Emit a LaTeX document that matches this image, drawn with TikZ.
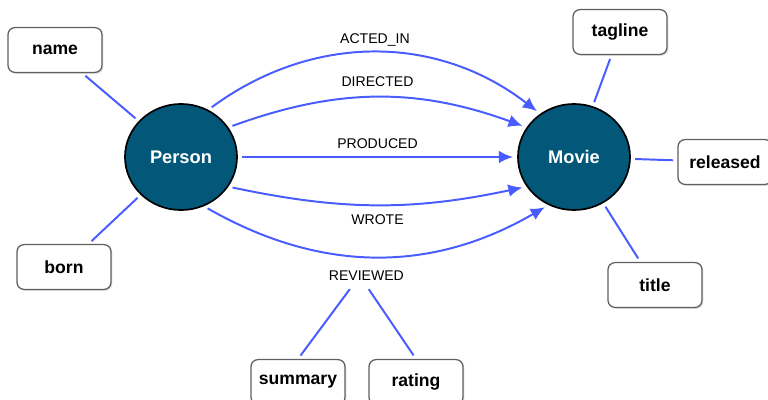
\documentclass[tikz,border=0pt]{standalone}
\usepackage{fontspec}
\setmainfont{Liberation Sans}
\usetikzlibrary{arrows.meta,shapes.geometric,shadows}

\definecolor{entitycol}{RGB}{3,88,122}
\definecolor{relcol}{RGB}{72,92,255}
\definecolor{boxline}{RGB}{95,95,95}

\begin{document}
\begin{tikzpicture}[x=0.025cm,y=-0.025cm,
	entity/.style={ellipse,draw=black,line width=1.2pt,fill=entitycol,text=white,
		font=\fontsize{13}{15}\selectfont\bfseries,minimum width=2.8cm,minimum height=2.65cm},
	prop/.style={draw=boxline,line width=0.9pt,rounded corners=5pt,fill=white,
		font=\fontsize{12.5}{15}\selectfont\bfseries,minimum width=2.35cm,minimum height=1.12cm,
		drop shadow={shadow xshift=1pt,shadow yshift=-1pt,opacity=0.25}},
	link/.style={draw=relcol,line width=1.4pt,shorten <=3pt,shorten >=3pt},
	rel/.style={link,-{Latex[length=10pt,width=9pt]}},
	lbl/.style={font=\fontsize{10}{12}\selectfont,text=black}]
	\clip (0,0) rectangle (768,400);
	\node[entity] (person) at (181,157) {Person};
	\node[entity] (movie) at (574,157) {Movie};
	\node[prop] (name) at (55,50) {name};
	\node[prop] (born) at (64,267) {born};
	\node[prop] (tagline) at (620,32) {tagline};
	\node[prop] (released) at (725,162) {released};
	\node[prop] (title) at (655,285) {title};
	\node[prop] (summary) at (298,382) {summary};
	\node[prop] (rating) at (416,382) {rating};
	% relationships
	\path
	(person.60) edge[rel,bend left=37] node[lbl,above=1pt] {ACTED\_IN} (movie.128)
	(person.32) edge[rel,bend left=20] node[lbl,above=4pt] {DIRECTED} (movie.148)
	(person) edge[rel] node[lbl,above=2pt] {PRODUCED} (movie)
	(person.-32) edge[rel,bend right=12] node[lbl,below=3pt] {WROTE} (movie.212);
	\draw[rel] (person.-65) to[bend right=30] node[lbl,below=6pt,xshift=-0.25cm] (rev) {REVIEWED} (movie.-118);
	% properties
	\path
	(name) edge[link] (person)
	(born) edge[link] (person)
	(tagline) edge[link] (movie)
	(released) edge[link] (movie)
	(title) edge[link] (movie)
	([xshift=-0.35cm]rev.south) edge[link] (summary.north)
	(rev.south) edge[link] (rating.north);
\end{tikzpicture}
\end{document}
